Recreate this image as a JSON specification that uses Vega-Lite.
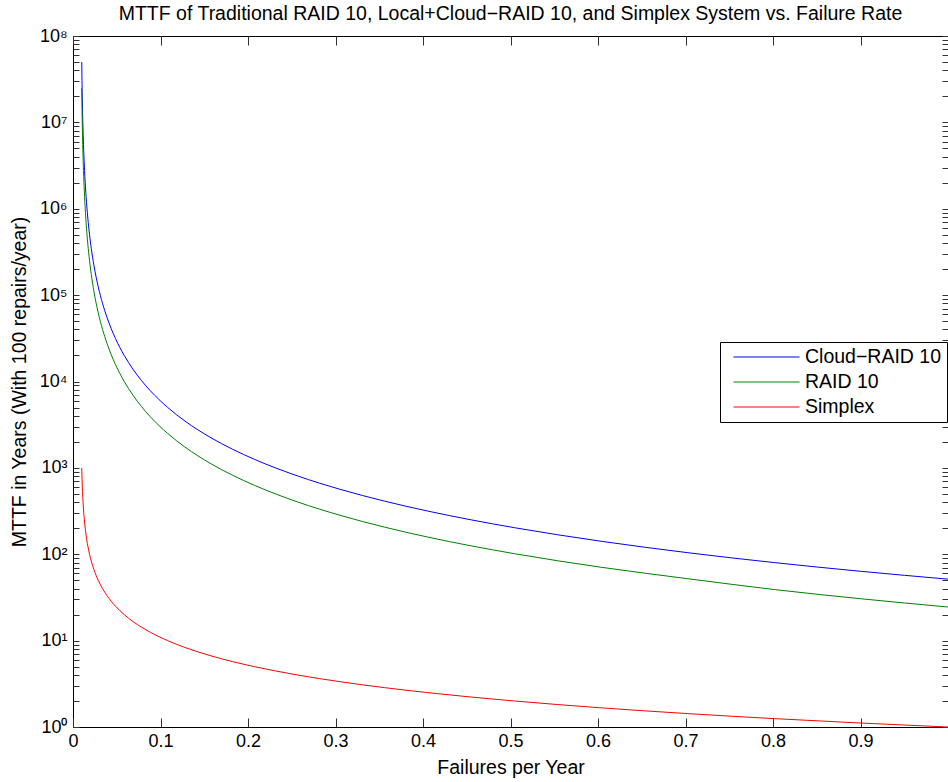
{
  "$schema": "https://vega.github.io/schema/vega-lite/v6.json",
  "width": 875,
  "height": 691,
  "autosize": "none",
  "padding": {"left": 73, "top": 36, "right": 0, "bottom": 55},
  "background": "white",
  "config": {
    "font": "Liberation Sans",
    "view": {"stroke": "black", "strokeWidth": 1},
    "axis": {"labelFont": "Liberation Sans", "titleFont": "Liberation Sans", "labelColor": "black", "titleColor": "black", "titleFontWeight": "normal", "domain": false, "grid": false, "tickColor": "#333333"}
  },
  "title": {"text": "MTTF of Traditional RAID 10, Local+Cloud−RAID 10, and Simplex System vs. Failure Rate", "fontSize": 19.5, "fontWeight": "normal", "font": "Liberation Sans", "anchor": "middle", "offset": 3, "color": "black"},
  "data": {"values": [
    {"x": 0.01, "Cloud−RAID 10": 50001500, "RAID 10": 25000750, "Simplex": 1000},
    {"x": 0.010198, "Cloud−RAID 10": 34723472, "RAID 10": 17361736, "Simplex": 833.33},
    {"x": 0.010495, "Cloud−RAID 10": 22223222, "RAID 10": 11111611, "Simplex": 666.67},
    {"x": 0.010991, "Cloud−RAID 10": 12500750, "RAID 10": 6250375, "Simplex": 500},
    {"x": 0.011486, "Cloud−RAID 10": 8000600, "RAID 10": 4000300, "Simplex": 400},
    {"x": 0.011982, "Cloud−RAID 10": 5556056, "RAID 10": 2778028, "Simplex": 333.33},
    {"x": 0.012973, "Cloud−RAID 10": 3125375, "RAID 10": 1562688, "Simplex": 250},
    {"x": 0.013964, "Cloud−RAID 10": 2000300, "RAID 10": 1000150, "Simplex": 200},
    {"x": 0.014955, "Cloud−RAID 10": 1389139, "RAID 10": 694569, "Simplex": 166.67},
    {"x": 0.016937, "Cloud−RAID 10": 781438, "RAID 10": 390719, "Simplex": 125},
    {"x": 0.018919, "Cloud−RAID 10": 500150, "RAID 10": 250075, "Simplex": 100},
    {"x": 0.020901, "Cloud−RAID 10": 347347, "RAID 10": 173674, "Simplex": 83.33},
    {"x": 0.023874, "Cloud−RAID 10": 222322, "RAID 10": 111161, "Simplex": 66.67},
    {"x": 0.028829, "Cloud−RAID 10": 125075, "RAID 10": 62538, "Simplex": 50},
    {"x": 0.033784, "Cloud−RAID 10": 80060, "RAID 10": 40030, "Simplex": 40},
    {"x": 0.038739, "Cloud−RAID 10": 55606, "RAID 10": 27803, "Simplex": 33.33},
    {"x": 0.043694, "Cloud−RAID 10": 40859, "RAID 10": 20430, "Simplex": 28.57},
    {"x": 0.048649, "Cloud−RAID 10": 31288, "RAID 10": 15644, "Simplex": 25},
    {"x": 0.053604, "Cloud−RAID 10": 24725, "RAID 10": 12362, "Simplex": 22.22},
    {"x": 0.058559, "Cloud−RAID 10": 20030, "RAID 10": 10015, "Simplex": 20},
    {"x": 0.068468, "Cloud−RAID 10": 13914, "RAID 10": 6957, "Simplex": 16.67},
    {"x": 0.078378, "Cloud−RAID 10": 10226, "RAID 10": 5113, "Simplex": 14.29},
    {"x": 0.088288, "Cloud−RAID 10": 7831, "RAID 10": 3916, "Simplex": 12.5},
    {"x": 0.098198, "Cloud−RAID 10": 6189.5, "RAID 10": 3094.8, "Simplex": 11.11},
    {"x": 0.108108, "Cloud−RAID 10": 5015, "RAID 10": 2508, "Simplex": 10},
    {"x": 0.127928, "Cloud−RAID 10": 3485, "RAID 10": 1742, "Simplex": 8.333},
    {"x": 0.157658, "Cloud−RAID 10": 2232, "RAID 10": 1116, "Simplex": 6.667},
    {"x": 0.182432, "Cloud−RAID 10": 1641.2, "RAID 10": 820.6, "Simplex": 5.714},
    {"x": 0.207207, "Cloud−RAID 10": 1257.5, "RAID 10": 628.8, "Simplex": 5},
    {"x": 0.256757, "Cloud−RAID 10": 806, "RAID 10": 403, "Simplex": 4},
    {"x": 0.306306, "Cloud−RAID 10": 560.6, "RAID 10": 280.3, "Simplex": 3.333},
    {"x": 0.355856, "Cloud−RAID 10": 412.4, "RAID 10": 206.2, "Simplex": 2.857},
    {"x": 0.405405, "Cloud−RAID 10": 316.25, "RAID 10": 158.1, "Simplex": 2.5},
    {"x": 0.454955, "Cloud−RAID 10": 250.25, "RAID 10": 125.1, "Simplex": 2.222},
    {"x": 0.504505, "Cloud−RAID 10": 203, "RAID 10": 101.5, "Simplex": 2},
    {"x": 0.603604, "Cloud−RAID 10": 141.4, "RAID 10": 70.7, "Simplex": 1.667},
    {"x": 0.702703, "Cloud−RAID 10": 104.2, "RAID 10": 52.1, "Simplex": 1.4286},
    {"x": 0.801802, "Cloud−RAID 10": 80, "RAID 10": 39, "Simplex": 1.25},
    {"x": 0.900901, "Cloud−RAID 10": 63.4, "RAID 10": 30.5, "Simplex": 1.111},
    {"x": 1.0, "Cloud−RAID 10": 51.5, "RAID 10": 24.5, "Simplex": 1}
  ]},
  "transform": [{"fold": ["Cloud−RAID 10", "RAID 10", "Simplex"], "as": ["series", "mttf"]}],
  "layer": [
    {
      "mark": {"type": "line", "strokeWidth": 1, "interpolate": "monotone"},
      "encoding": {
        "x": {"field": "x", "type": "quantitative", "scale": {"domain": [0, 1], "nice": false, "zero": false},
          "axis": {"orient": "bottom", "title": "Failures per Year", "titleFontSize": 19.5, "labelFontSize": 18, "values": [0, 0.1, 0.2, 0.3, 0.4, 0.5, 0.6, 0.7, 0.8, 0.9, 1], "labelExpr": "datum.value >= 0.99 ? '' : format(datum.value, '~g')", "tickSize": -9, "labelPadding": 14, "titlePadding": 8, "labelFlush": false, "labelOverlap": false}},
        "y": {"field": "mttf", "type": "quantitative", "scale": {"type": "log", "domain": [1, 100000000], "nice": false},
          "axis": {"orient": "left", "title": "MTTF in Years (With 100 repairs/year)", "titleFontSize": 19.5, "labelFontSize": 18, "titlePadding": 10, "labelOverlap": false, "labelPadding": 12, "tickSize": -6,
            "values": [1,2,3,4,5,6,7,8,9,10,20,30,40,50,60,70,80,90,100,200,300,400,500,600,700,800,900,1000,2000,3000,4000,5000,6000,7000,8000,9000,10000,20000,30000,40000,50000,60000,70000,80000,90000,100000,200000,300000,400000,500000,600000,700000,800000,900000,1000000,2000000,3000000,4000000,5000000,6000000,7000000,8000000,9000000,10000000,20000000,30000000,40000000,50000000,60000000,70000000,80000000,90000000,100000000],
            "labelExpr": "datum.value == 1 ? '10⁰' : datum.value == 10 ? '10¹' : datum.value == 100 ? '10²' : datum.value == 1000 ? '10³' : datum.value == 10000 ? '10⁴' : datum.value == 100000 ? '10⁵' : datum.value == 1000000 ? '10⁶' : datum.value == 10000000 ? '10⁷' : datum.value == 100000000 ? '10⁸' : ''"}},
        "color": {"field": "series", "type": "nominal", "sort": ["Cloud−RAID 10", "RAID 10", "Simplex"],
          "scale": {"domain": ["Cloud−RAID 10", "RAID 10", "Simplex"], "range": ["#0000ff", "#008000", "#ff0000"]},
          "legend": {"title": null, "orient": "none", "legendX": 647, "legendY": 306, "symbolType": "stroke", "symbolSize": 4356, "symbolStrokeWidth": 1, "symbolOffset": 8, "clipHeight": 20, "rowPadding": 5, "labelFontSize": 19.5, "labelFont": "Liberation Sans", "labelColor": "black", "padding": 5, "strokeColor": "black", "fillColor": "white", "labelOffset": 5, "labelLimit": 300}}
      }
    },
    {
      "mark": {"type": "line", "strokeOpacity": 0},
      "encoding": {
        "x": {"field": "x", "type": "quantitative", "axis": {"orient": "top", "title": null, "labels": false, "values": [0, 0.1, 0.2, 0.3, 0.4, 0.5, 0.6, 0.7, 0.8, 0.9, 1], "tickSize": -9}},
        "y": {"field": "mttf", "type": "quantitative", "axis": {"orient": "right", "title": null, "labels": false, "tickSize": -6,
          "values": [1,2,3,4,5,6,7,8,9,10,20,30,40,50,60,70,80,90,100,200,300,400,500,600,700,800,900,1000,2000,3000,4000,5000,6000,7000,8000,9000,10000,20000,30000,40000,50000,60000,70000,80000,90000,100000,200000,300000,400000,500000,600000,700000,800000,900000,1000000,2000000,3000000,4000000,5000000,6000000,7000000,8000000,9000000,10000000,20000000,30000000,40000000,50000000,60000000,70000000,80000000,90000000,100000000]}},
        "detail": {"field": "series", "type": "nominal"}
      }
    }
  ],
  "resolve": {"axis": {"x": "independent", "y": "independent"}}
}
